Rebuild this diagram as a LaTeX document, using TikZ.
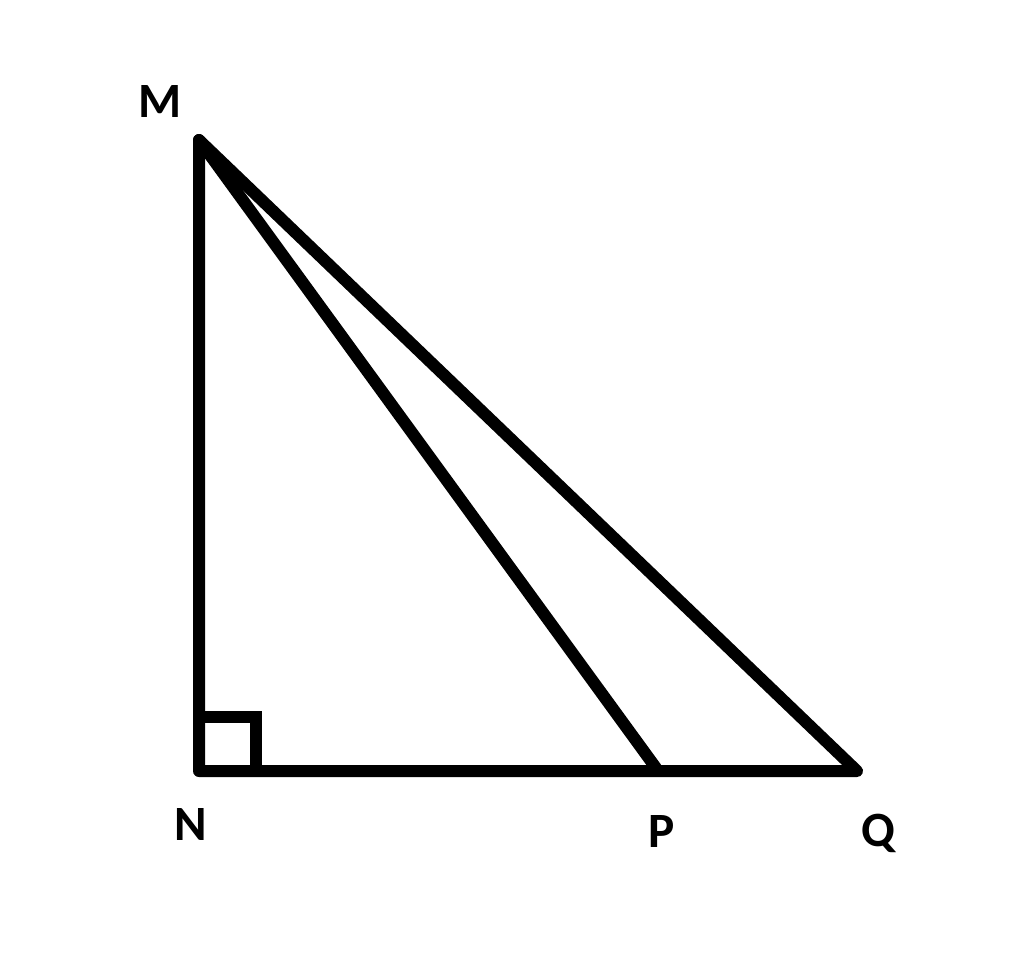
\documentclass[tikz,border=0pt]{standalone}
\usepackage{fontspec}
\setmainfont{Carlito}
\usepackage{tikz}

\tikzset{side/.style={line width=9pt, line cap=round, line join=round},
  vlabel/.style={font=\fontsize{37}{40}\selectfont\bfseries, inner sep=0pt}}

\begin{document}
\begin{tikzpicture}[x=0.75pt, y=-0.75pt]
\useasboundingbox (0,0) rectangle (1024,956);
\coordinate (M) at (199,140);
\coordinate (N) at (199,771);
\coordinate (P) at (656,768);
\coordinate (Q) at (857,771);
\coordinate (S) at (256,717);
\draw[side] (M) -- (N) -- (Q) -- cycle;
\draw[side] (M) -- (P);
\draw[side, line cap=butt, line join=miter] (N |- S) -- (S) -- (S |- N);
\node[vlabel] (m) at (160,102) {M};
\node[vlabel] (n) at (191,824) {N};
\node[vlabel] (p) at (662,831) {P};
\node[vlabel] (q) at (878,833) {Q};
\end{tikzpicture}
\end{document}
